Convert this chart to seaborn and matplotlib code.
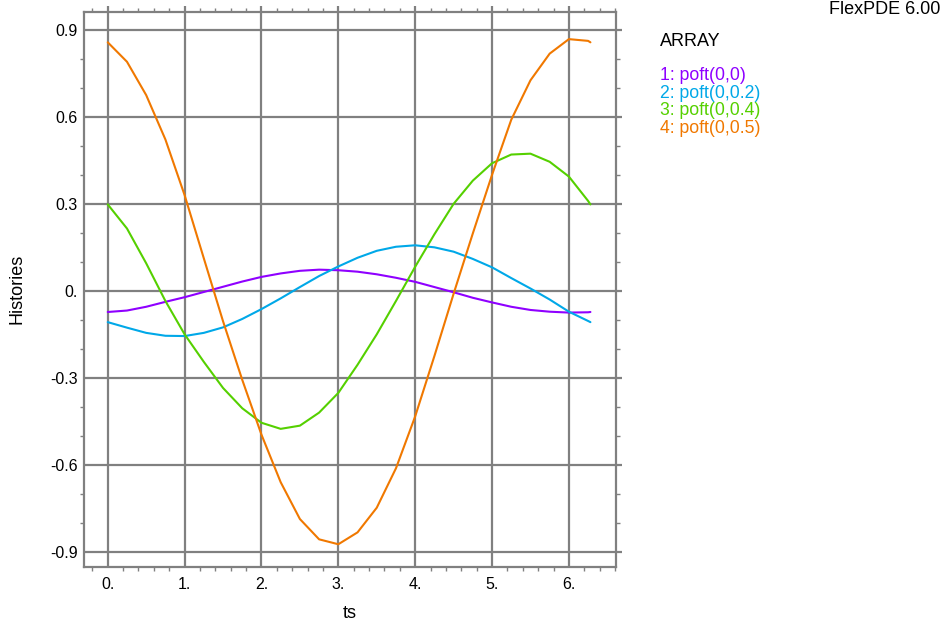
import numpy as np
import pandas as pd
import matplotlib
matplotlib.use("Agg")
import matplotlib.pyplot as plt
import seaborn as sns
from matplotlib.ticker import MultipleLocator

# dados (histories)
ts = [0.0, 0.25, 0.5, 0.75, 1.0, 1.25, 1.5, 1.75, 2.0, 2.25, 2.5, 2.75, 3.0,
      3.25, 3.5, 3.75, 4.0, 4.25, 4.5, 4.75, 5.0, 5.25, 5.5, 5.75, 6.0, 6.25, 6.28]

poft_0 = [-0.073, -0.068, -0.055, -0.038, -0.022, -0.004, 0.014, 0.032, 0.048,
          0.060, 0.069, 0.073, 0.071, 0.066, 0.057, 0.045, 0.031, 0.013, -0.005,
          -0.024, -0.040, -0.055, -0.066, -0.072, -0.075, -0.074, -0.073]
poft_02 = [-0.108, -0.127, -0.145, -0.155, -0.156, -0.145, -0.126, -0.097, -0.063,
           -0.026, 0.013, 0.051, 0.084, 0.114, 0.138, 0.152, 0.157, 0.150, 0.135,
           0.110, 0.081, 0.044, 0.008, -0.030, -0.072, -0.104, -0.108]
poft_04 = [0.298, 0.215, 0.095, -0.035, -0.150, -0.245, -0.335, -0.405, -0.455,
           -0.476, -0.465, -0.420, -0.352, -0.255, -0.150, -0.035, 0.083, 0.195,
           0.300, 0.380, 0.440, 0.470, 0.473, 0.445, 0.394, 0.310, 0.298]
poft_05 = [0.857, 0.790, 0.675, 0.522, 0.330, 0.112, -0.105, -0.307, -0.496,
           -0.660, -0.787, -0.857, -0.874, -0.833, -0.748, -0.612, -0.433, -0.225,
           -0.010, 0.198, 0.400, 0.590, 0.726, 0.818, 0.868, 0.862, 0.857]

series_names = ["1: poft(0,0)", "2: poft(0,0.2)", "3: poft(0,0.4)", "4: poft(0,0.5)"]
series_colors = ["#8F00FF", "#00A8E8", "#55D000", "#F07800"]

xticks = [0, 1, 2, 3, 4, 5, 6]
xtick_labels = ["0.", "1.", "2.", "3.", "4.", "5.", "6."]
yticks = [0.9, 0.6, 0.3, 0.0, -0.3, -0.6, -0.9]
ytick_labels = ["0.9", "0.6", "0.3", "0.", "-0.3", "-0.6", "-0.9"]

sns.set_style("white")
plt.rcParams['font.family'] = ['Liberation Sans', 'DejaVu Sans']
plt.rcParams['text.color'] = 'black'
plt.rcParams['axes.labelcolor'] = 'black'
plt.rcParams['xtick.labelcolor'] = 'black'
plt.rcParams['ytick.labelcolor'] = 'black'

df = pd.DataFrame({
    "ts": ts * 4,
    "valor": poft_0 + poft_02 + poft_04 + poft_05,
    "serie": sum([[n] * len(ts) for n in series_names], []),
})

grid_col = "#808080"

fig = plt.figure(figsize=(9.43, 6.25), dpi=100)
ax = fig.add_axes([0.089, 0.093, 0.564, 0.888])

sns.lineplot(data=df, x="ts", y="valor", hue="serie", palette=dict(zip(series_names, series_colors)),
             linewidth=1.5, legend=False, ax=ax, zorder=3)

ax.set_xlim(-0.31, 6.61)
ax.set_ylim(-0.952, 0.962)
ax.set_xticks(xticks, labels=xtick_labels)
ax.set_yticks(yticks, labels=ytick_labels)
ax.xaxis.set_minor_locator(MultipleLocator(0.2))
ax.yaxis.set_minor_locator(MultipleLocator(0.1))

ax.grid(True, which="major", color=grid_col, linewidth=1.6, zorder=1)
for s in ax.spines.values():
    s.set_color(grid_col)
    s.set_linewidth(1.6)

ax.tick_params(which="major", direction="out", length=4, width=1.6, color=grid_col,
               top=True, right=True, labelsize=11.5, labelcolor="black")
ax.tick_params(which="minor", direction="out", length=3, width=1.0, color=grid_col,
               top=True, right=True, bottom=True, left=True)
ax.tick_params(axis="y", pad=0.5)
ax.tick_params(axis="x", pad=3)

ax.set_xlabel("ts", fontsize=13, va="center", color="black")
ax.xaxis.set_label_coords(0.5, -0.084)
ax.set_ylabel("Histories", fontsize=13, va="center", color="black")
ax.yaxis.set_label_coords(-0.126, 0.5)

# legenda em texto como no FlexPDE
fig.text(0.9975, 0.984, "FlexPDE 6.00", ha="right", va="center", fontsize=13)
fig.text(0.700, 0.934, "ARRAY", ha="left", va="center", fontsize=13)
for i, (nome, cor) in enumerate(zip(series_names, series_colors)):
    fig.text(0.700, 0.879 - i * 0.0282, nome, ha="left", va="center", fontsize=12.7, color=cor)

plt.savefig("out.png", dpi=100)
plt.close()
